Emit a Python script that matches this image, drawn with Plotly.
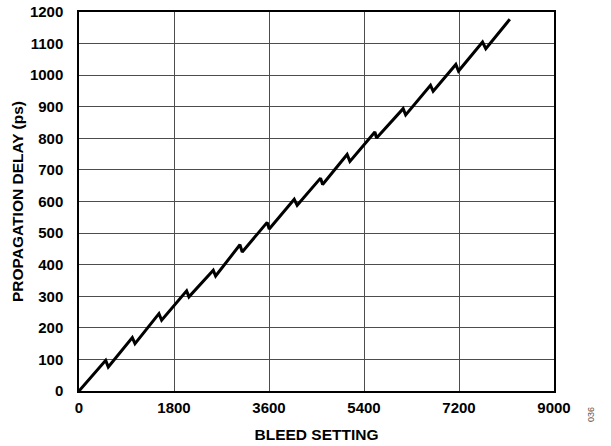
import plotly.graph_objects as go

# Propagation delay vs bleed setting: linear ramp with a small step down every 512 codes
bleed_setting = [0, 506, 555, 1010, 1061, 1515, 1566, 2039, 2083, 2544, 2589,
                 3049, 3093, 3565, 3604, 4078, 4134, 4577, 4616, 5080, 5133,
                 5606, 5638, 6142, 6190, 6660, 6711, 7140, 7191, 7646, 7708, 8163]
delay_ps = [0, 97, 76, 169, 150, 245, 224, 317, 298, 382, 364,
            463, 440, 534, 513, 607, 588, 674, 654, 749, 727,
            820, 801, 894, 874, 968, 949, 1034, 1013, 1105, 1084, 1177]

x_ticks = [0, 1800, 3600, 5400, 7200, 9000]
y_ticks = list(range(0, 1201, 100))

FONT = "Liberation Sans, Arial, sans-serif"

fig = go.Figure()
fig.add_trace(go.Scatter(
    x=bleed_setting, y=delay_ps, mode="lines",
    line=dict(color="black", width=3),
    showlegend=False, hoverinfo="skip",
))

axis_common = dict(
    showgrid=True, gridcolor="#4d4d4d", gridwidth=1,
    showline=True, linecolor="black", linewidth=1.5, mirror=True,
    zeroline=False, ticks="", automargin=False,
    tickfont=dict(family=FONT, size=15, color="black", weight="bold"),
)

fig.update_xaxes(
    range=[0, 9000], tickvals=x_ticks, ticktext=[str(v) for v in x_ticks],
    ticklabelstandoff=2,
    title=dict(text="<b>BLEED SETTING</b>", font=dict(family=FONT, size=15.5, color="black"),
               standoff=14),
    **axis_common,
)
fig.update_yaxes(
    range=[0, 1200], tickvals=y_ticks, ticktext=[str(v) for v in y_ticks],
    ticklabelstandoff=11,
    title=dict(text="<b>PROPAGATION DELAY (ps)</b>", font=dict(family=FONT, size=15.5, color="black"),
               standoff=2),
    **axis_common,
)

fig.add_annotation(
    text="036", xref="paper", yref="paper", showarrow=False,
    x=(591 - 79) / (611 - 79 - 57), y=(446 - 415 - 55) / (446 - 12 - 55),
    xanchor="center", yanchor="middle",
    textangle=-90, font=dict(family=FONT, size=9, color="#555555"),
)

fig.update_layout(
    width=611, height=446,
    margin=dict(l=79, r=57, t=12, b=55, autoexpand=False),
    paper_bgcolor="white", plot_bgcolor="white",
)

fig.write_html("out.html")
